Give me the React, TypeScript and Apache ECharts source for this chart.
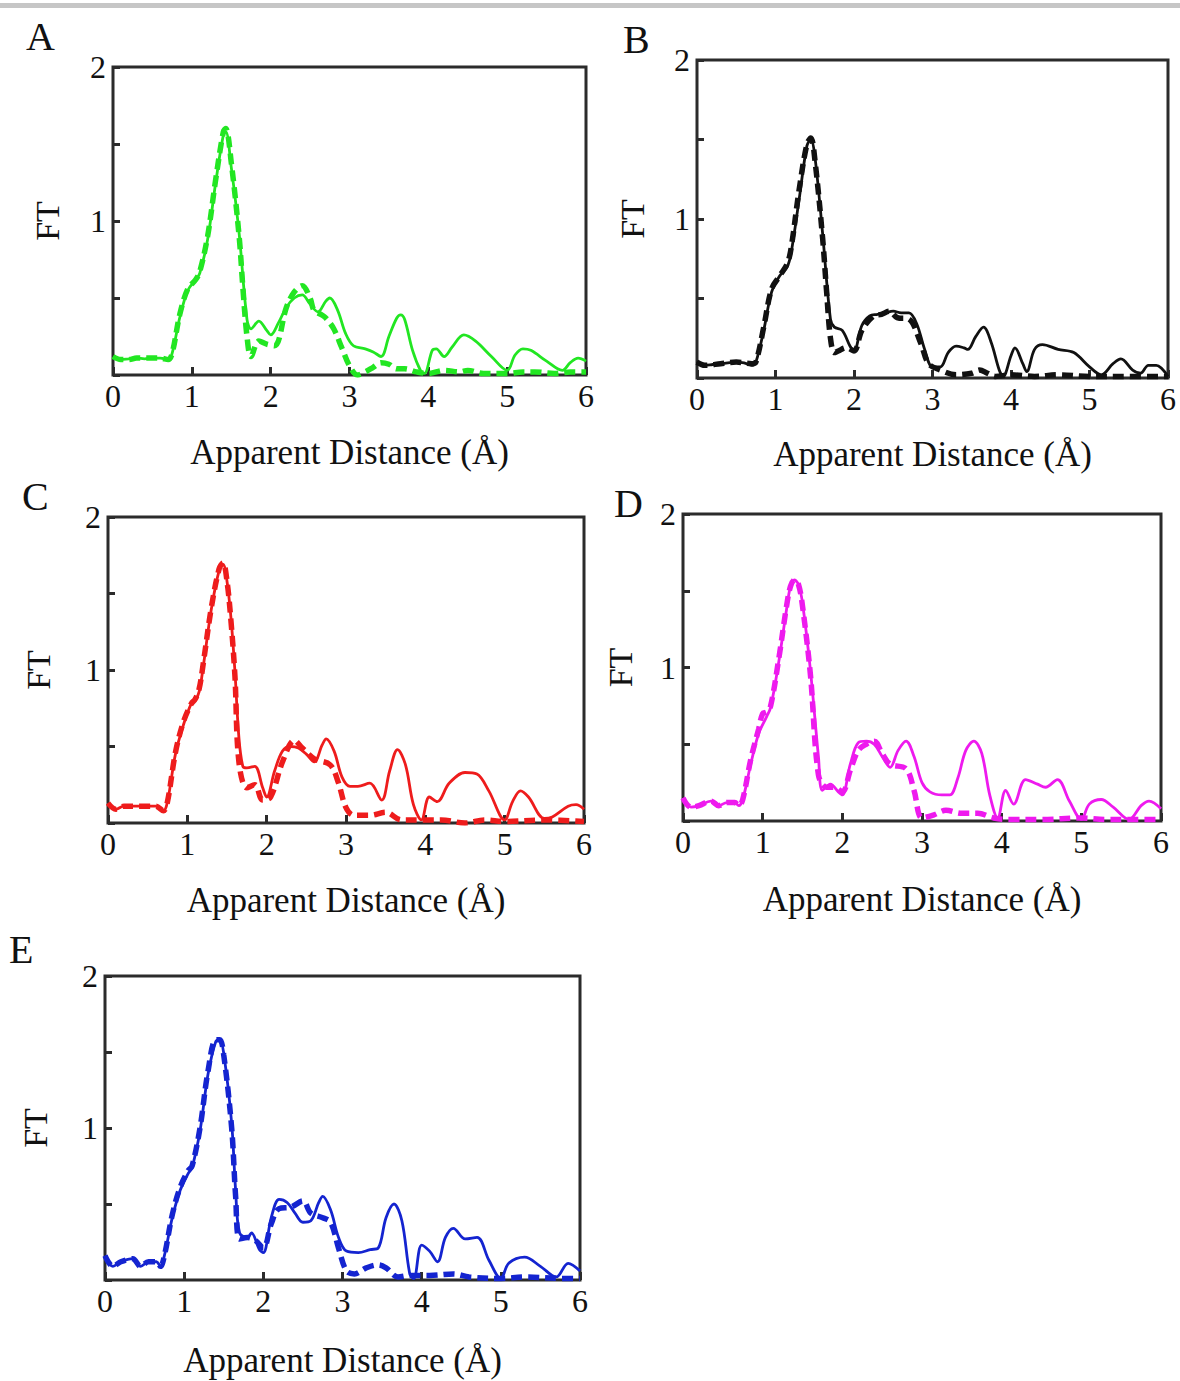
import React, { useEffect, useRef } from "react";
import * as echarts from "echarts";

const panelLetters = ["A", "B", "C", "D", "E"];
const xAxisTitle = "Apparent Distance (Å)";
const yAxisTitle = "FT";
const yLabelValues = [1, 2];
const panelColors = ["#22e622", "#111111", "#ee1c1c", "#ee1aee", "#1424d0"];

const aExp = [[0,0.12],[0.1,0.10],[0.2,0.105],[0.3,0.11],[0.4,0.105],[0.5,0.11],[0.6,0.11],[0.7,0.10],[0.75,0.14],[0.85,0.38],[0.95,0.55],[1.05,0.62],[1.1,0.66],[1.2,0.88],[1.3,1.24],[1.4,1.56],[1.43,1.58],[1.5,1.35],[1.6,0.92],[1.7,0.36],[1.75,0.30],[1.85,0.35],[1.95,0.29],[2.0,0.26],[2.1,0.34],[2.2,0.44],[2.3,0.50],[2.4,0.52],[2.5,0.46],[2.6,0.41],[2.7,0.48],[2.75,0.50],[2.85,0.42],[2.95,0.27],[3.05,0.19],[3.2,0.17],[3.3,0.15],[3.4,0.12],[3.5,0.25],[3.6,0.37],[3.65,0.39],[3.7,0.36],[3.8,0.16],[3.9,0.03],[3.95,0.01],[4.05,0.16],[4.1,0.17],[4.2,0.12],[4.3,0.18],[4.45,0.26],[4.6,0.22],[4.8,0.12],[5.0,0.03],[5.1,0.13],[5.2,0.17],[5.3,0.16],[5.5,0.09],[5.7,0.03],[5.8,0.08],[5.9,0.11],[6.0,0.09]];
const aFit = [[0,0.12],[0.1,0.10],[0.2,0.10],[0.3,0.11],[0.4,0.11],[0.5,0.11],[0.6,0.11],[0.7,0.10],[0.75,0.14],[0.85,0.40],[0.95,0.56],[1.05,0.62],[1.1,0.67],[1.2,0.90],[1.3,1.26],[1.4,1.58],[1.43,1.60],[1.5,1.38],[1.6,0.90],[1.65,0.55],[1.7,0.25],[1.75,0.12],[1.85,0.22],[1.95,0.20],[2.05,0.19],[2.2,0.44],[2.3,0.54],[2.4,0.58],[2.5,0.50],[2.55,0.42],[2.65,0.39],[2.7,0.37],[2.8,0.30],[2.9,0.18],[3.0,0.06],[3.1,0.0],[3.2,0.02],[3.3,0.05],[3.4,0.08],[3.5,0.07],[3.6,0.04],[3.7,0.04],[3.85,0.02],[4.0,0.01],[4.2,0.03],[4.4,0.02],[4.5,0.03],[4.7,0.01],[5.0,0.01],[5.2,0.02],[5.35,0.02],[5.6,0.01],[5.8,0.02],[6.0,0.02]];

const bExp = [[0,0.105],[0.1,0.08],[0.2,0.085],[0.3,0.09],[0.5,0.10],[0.6,0.095],[0.7,0.08],[0.75,0.10],[0.85,0.30],[0.95,0.54],[1.05,0.64],[1.15,0.70],[1.2,0.79],[1.3,1.12],[1.4,1.46],[1.45,1.50],[1.5,1.40],[1.6,0.91],[1.7,0.37],[1.75,0.32],[1.85,0.30],[1.95,0.20],[2.0,0.17],[2.1,0.33],[2.2,0.39],[2.3,0.40],[2.4,0.41],[2.5,0.42],[2.6,0.41],[2.7,0.41],[2.8,0.34],[2.9,0.18],[3.0,0.07],[3.1,0.07],[3.2,0.16],[3.3,0.20],[3.4,0.19],[3.45,0.18],[3.55,0.26],[3.65,0.32],[3.75,0.22],[3.85,0.05],[3.9,0.01],[4.0,0.14],[4.05,0.19],[4.15,0.09],[4.2,0.04],[4.3,0.18],[4.4,0.21],[4.6,0.18],[4.8,0.16],[5.0,0.07],[5.15,0.02],[5.3,0.09],[5.4,0.12],[5.55,0.05],[5.65,0.03],[5.75,0.08],[5.85,0.08],[6.0,0.01]];
const bFit = [[0,0.10],[0.1,0.08],[0.3,0.09],[0.5,0.10],[0.7,0.09],[0.75,0.10],[0.85,0.32],[0.95,0.56],[1.05,0.64],[1.15,0.72],[1.2,0.82],[1.3,1.18],[1.4,1.47],[1.45,1.51],[1.5,1.38],[1.6,0.88],[1.65,0.55],[1.7,0.25],[1.75,0.16],[1.8,0.17],[1.9,0.19],[2.0,0.17],[2.1,0.30],[2.25,0.39],[2.35,0.40],[2.45,0.42],[2.55,0.38],[2.7,0.37],[2.85,0.22],[2.95,0.09],[3.1,0.05],[3.3,0.02],[3.5,0.03],[3.6,0.05],[3.7,0.03],[3.8,0.01],[4.0,0.02],[4.3,0.01],[4.6,0.02],[5.0,0.01],[5.5,0.01],[6.0,0.01]];

const cExp = [[0,0.13],[0.1,0.09],[0.2,0.11],[0.4,0.11],[0.6,0.11],[0.7,0.08],[0.75,0.14],[0.85,0.45],[0.95,0.64],[1.05,0.78],[1.1,0.80],[1.15,0.86],[1.2,1.02],[1.3,1.39],[1.4,1.65],[1.45,1.69],[1.5,1.58],[1.55,1.34],[1.6,0.99],[1.65,0.56],[1.7,0.37],[1.75,0.36],[1.85,0.37],[1.95,0.23],[2.0,0.17],[2.1,0.34],[2.2,0.47],[2.3,0.50],[2.4,0.49],[2.5,0.45],[2.6,0.40],[2.7,0.51],[2.75,0.55],[2.85,0.47],[2.95,0.30],[3.05,0.24],[3.15,0.24],[3.3,0.26],[3.45,0.15],[3.55,0.34],[3.65,0.48],[3.75,0.38],[3.85,0.12],[3.95,0.02],[4.05,0.17],[4.15,0.14],[4.3,0.26],[4.5,0.33],[4.65,0.32],[4.8,0.21],[5.0,0.02],[5.1,0.14],[5.2,0.21],[5.3,0.17],[5.5,0.03],[5.6,0.04],[5.8,0.11],[5.9,0.12],[6.0,0.09]];
const cFit = [[0,0.13],[0.1,0.09],[0.2,0.11],[0.4,0.11],[0.6,0.11],[0.7,0.08],[0.75,0.14],[0.85,0.46],[0.95,0.66],[1.05,0.78],[1.1,0.81],[1.15,0.88],[1.2,1.04],[1.3,1.40],[1.4,1.66],[1.45,1.70],[1.5,1.58],[1.55,1.32],[1.6,0.96],[1.65,0.40],[1.75,0.23],[1.85,0.25],[1.95,0.15],[2.05,0.17],[2.2,0.40],[2.35,0.54],[2.45,0.49],[2.6,0.42],[2.8,0.38],[2.9,0.27],[3.0,0.10],[3.1,0.05],[3.3,0.05],[3.5,0.07],[3.7,0.02],[4.0,0.02],[4.2,0.02],[4.5,0.0],[4.75,0.02],[5.0,0.01],[5.5,0.02],[6.0,0.01]];

const dExp = [[0,0.15],[0.1,0.09],[0.2,0.10],[0.35,0.13],[0.45,0.10],[0.55,0.12],[0.65,0.12],[0.7,0.10],[0.75,0.14],[0.85,0.37],[0.95,0.57],[1.05,0.68],[1.1,0.74],[1.2,1.03],[1.3,1.38],[1.35,1.53],[1.4,1.57],[1.45,1.54],[1.5,1.42],[1.6,0.98],[1.7,0.42],[1.75,0.20],[1.85,0.24],[1.95,0.19],[2.0,0.17],[2.1,0.37],[2.2,0.51],[2.3,0.52],[2.4,0.50],[2.5,0.42],[2.6,0.35],[2.7,0.46],[2.8,0.52],[2.9,0.42],[3.0,0.25],[3.1,0.19],[3.25,0.17],[3.35,0.17],[3.45,0.28],[3.55,0.46],[3.65,0.52],[3.75,0.44],[3.85,0.17],[3.95,0.02],[4.05,0.20],[4.15,0.11],[4.3,0.27],[4.45,0.24],[4.55,0.22],[4.7,0.27],[4.85,0.13],[5.0,0.01],[5.1,0.11],[5.25,0.14],[5.4,0.09],[5.6,0.01],[5.75,0.10],[5.85,0.13],[6.0,0.08]];
const dFit = [[0,0.15],[0.1,0.09],[0.2,0.10],[0.35,0.13],[0.45,0.10],[0.55,0.12],[0.65,0.12],[0.7,0.10],[0.75,0.14],[0.85,0.40],[0.95,0.60],[1.0,0.70],[1.05,0.71],[1.1,0.75],[1.2,1.05],[1.3,1.40],[1.35,1.53],[1.4,1.57],[1.45,1.54],[1.5,1.40],[1.6,0.95],[1.7,0.30],[1.8,0.22],[1.9,0.22],[2.0,0.19],[2.1,0.33],[2.2,0.46],[2.3,0.50],[2.4,0.52],[2.5,0.44],[2.6,0.37],[2.8,0.34],[2.9,0.20],[3.0,0.02],[3.15,0.04],[3.3,0.07],[3.5,0.05],[3.7,0.05],[3.9,0.02],[4.1,0.01],[4.5,0.01],[5.0,0.02],[5.3,0.01],[5.6,0.01],[6.0,0.01]];

const eExp = [[0,0.16],[0.1,0.09],[0.2,0.12],[0.35,0.14],[0.45,0.09],[0.55,0.12],[0.65,0.12],[0.7,0.09],[0.75,0.16],[0.85,0.41],[0.95,0.59],[1.05,0.70],[1.1,0.74],[1.2,0.98],[1.3,1.35],[1.4,1.57],[1.45,1.58],[1.5,1.49],[1.6,1.03],[1.65,0.59],[1.7,0.31],[1.8,0.28],[1.85,0.31],[1.95,0.20],[2.0,0.18],[2.1,0.41],[2.2,0.53],[2.3,0.51],[2.4,0.44],[2.5,0.38],[2.6,0.39],[2.7,0.51],[2.75,0.55],[2.85,0.46],[2.95,0.28],[3.05,0.19],[3.2,0.18],[3.35,0.20],[3.45,0.21],[3.55,0.41],[3.65,0.50],[3.75,0.39],[3.85,0.04],[3.9,0.01],[4.0,0.23],[4.1,0.19],[4.2,0.12],[4.3,0.28],[4.4,0.34],[4.55,0.27],[4.7,0.28],[4.85,0.13],[5.0,0.01],[5.1,0.11],[5.3,0.15],[5.5,0.09],[5.7,0.02],[5.85,0.11],[6.0,0.06]];
const eFit = [[0,0.16],[0.1,0.09],[0.2,0.12],[0.35,0.14],[0.45,0.09],[0.55,0.12],[0.65,0.12],[0.7,0.09],[0.75,0.16],[0.85,0.43],[0.95,0.61],[1.05,0.72],[1.1,0.75],[1.2,1.00],[1.3,1.37],[1.4,1.58],[1.45,1.58],[1.5,1.48],[1.6,1.00],[1.65,0.55],[1.7,0.27],[1.8,0.28],[1.9,0.26],[2.0,0.21],[2.1,0.37],[2.2,0.47],[2.35,0.48],[2.5,0.52],[2.6,0.44],[2.75,0.41],[2.85,0.38],[2.95,0.21],[3.05,0.06],[3.15,0.04],[3.3,0.08],[3.45,0.10],[3.55,0.08],[3.7,0.02],[3.85,0.03],[4.1,0.03],[4.4,0.04],[4.6,0.02],[5.0,0.01],[5.3,0.02],[5.8,0.01],[6.0,0.01]];

const panelExp = [aExp, bExp, cExp, dExp, eExp];
const panelFit = [aFit, bFit, cFit, dFit, eFit];

// layout (pixels)
const grids = [
  { left: 113, top: 67, width: 473, height: 308, nameGapX: 60, nameGapY: 49 },
  { left: 697, top: 60, width: 471, height: 318, nameGapX: 59, nameGapY: 48 },
  { left: 108, top: 517, width: 476, height: 306, nameGapX: 60, nameGapY: 53 },
  { left: 683, top: 514, width: 478, height: 307, nameGapX: 61, nameGapY: 46 },
  { left: 105, top: 976, width: 475, height: 304, nameGapX: 63, nameGapY: 53 },
];
const letterPos = [
  { x: 26, y: 16 },
  { x: 623, y: 19 },
  { x: 22, y: 476 },
  { x: 614, y: 483 },
  { x: 9, y: 929 },
];

const FONT = "'Liberation Serif', 'Times New Roman', serif";
const FRAME = "#2b2b2b";

export default function App() {
  const ref = useRef<HTMLDivElement>(null);
  useEffect(() => {
    if (!ref.current) return;
    const chart = echarts.init(ref.current, null, { renderer: "svg" });
    const grid: any[] = [];
    const xAxis: any[] = [];
    const yAxis: any[] = [];
    const series: any[] = [];
    grids.forEach((g, i) => {
      grid.push({
        left: g.left,
        top: g.top,
        width: g.width,
        height: g.height,
        show: true,
        borderColor: FRAME,
        borderWidth: 3,
        backgroundColor: "transparent",
      });
      xAxis.push({
        type: "value",
        gridIndex: i,
        min: 0,
        max: 6,
        interval: 1,
        name: xAxisTitle,
        nameLocation: "middle",
        nameGap: g.nameGapX,
        nameTextStyle: { fontFamily: FONT, fontSize: 35, color: "#111" },
        axisLine: { show: false },
        axisTick: { show: true, inside: true, length: 8, lineStyle: { color: FRAME, width: 3 } },
        axisLabel: { fontFamily: FONT, fontSize: 32, color: "#111", margin: 5 },
        splitLine: { show: false },
      });
      yAxis.push({
        type: "value",
        gridIndex: i,
        min: 0,
        max: 2,
        interval: 0.5,
        name: yAxisTitle,
        nameLocation: "middle",
        nameGap: g.nameGapY,
        nameTextStyle: { fontFamily: FONT, fontSize: 34, color: "#111" },
        axisLine: { show: false },
        axisTick: { show: true, inside: true, length: 7, lineStyle: { color: FRAME, width: 3 } },
        axisLabel: {
          fontFamily: FONT,
          fontSize: 32,
          color: "#111",
          margin: 7,
          formatter: (v: number) => (yLabelValues.includes(v) ? String(v) : ""),
        },
        splitLine: { show: false },
      });
      series.push({
        type: "line",
        xAxisIndex: i,
        yAxisIndex: i,
        data: panelExp[i],
        showSymbol: false,
        smooth: 0.35,
        lineStyle: { color: panelColors[i], width: 2.8 },
        z: 3,
      });
      series.push({
        type: "line",
        xAxisIndex: i,
        yAxisIndex: i,
        data: panelFit[i],
        showSymbol: false,
        smooth: 0.35,
        lineStyle: { color: panelColors[i], width: 5.5, type: [11, 6] },
        z: 4,
      });
    });
    const graphic: any[] = [
      { type: "rect", shape: { x: 0, y: 3, width: 1180, height: 5 }, style: { fill: "#c6c6c6" }, silent: true },
    ];
    panelLetters.forEach((l, i) => {
      graphic.push({
        type: "text",
        x: letterPos[i].x,
        y: letterPos[i].y,
        style: { text: l, fontFamily: FONT, fontSize: 40, fill: "#111" },
      });
    });
    chart.setOption({
      animation: false,
      backgroundColor: "#ffffff",
      grid,
      xAxis,
      yAxis,
      series,
      graphic,
    });
    return () => chart.dispose();
  }, []);
  return (
    <div
      ref={ref}
      style={{ position: "absolute", left: 0, top: 0, width: 1180, height: 1381, background: "#fff" }}
    />
  );
}
